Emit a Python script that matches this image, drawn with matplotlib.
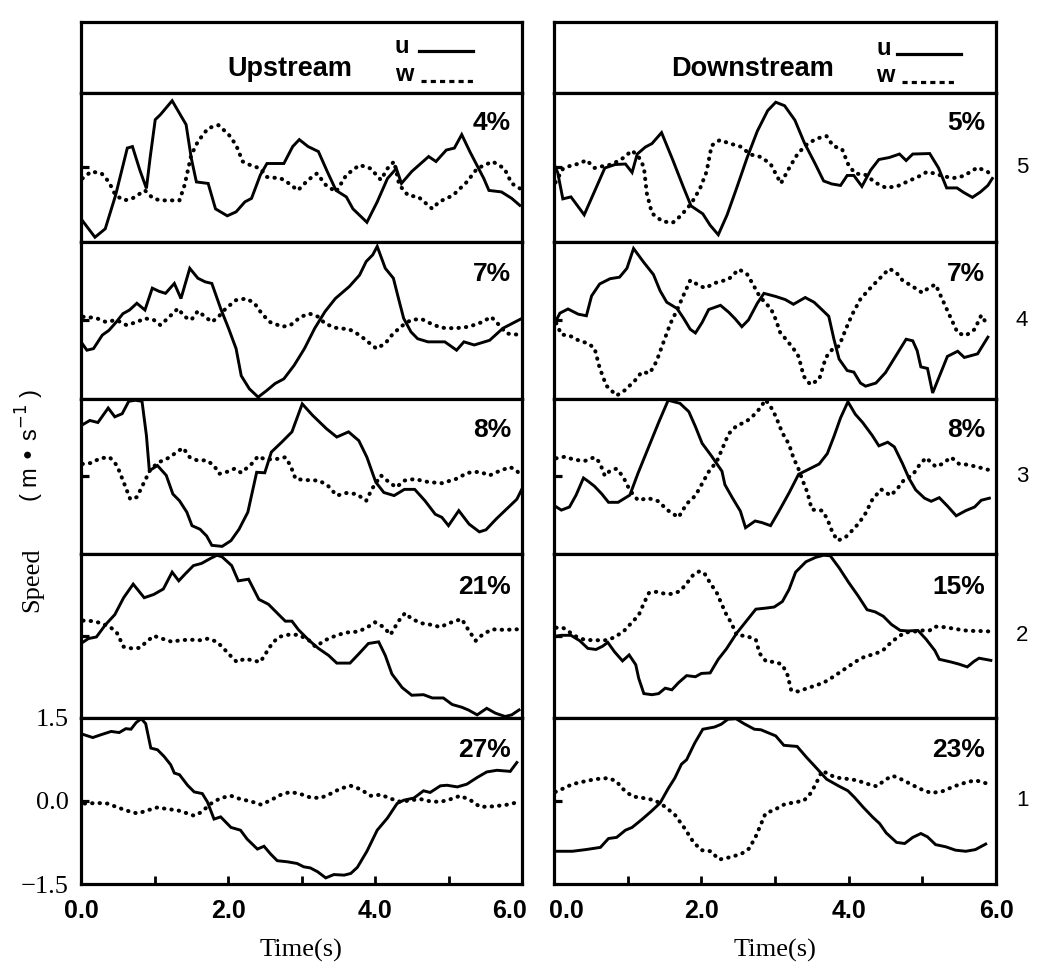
"""Upstream / downstream velocity traces (u solid, w dotted) at five stations."""

import matplotlib

matplotlib.use("Agg")
import matplotlib.pyplot as plt
from matplotlib.lines import Line2D

SANS = "Liberation Sans"
SERIF = "Liberation Serif"

# ---------------------------------------------------------------- upstream
UP1_U_T = [0.00, 0.19, 0.33, 0.47, 0.63, 0.70, 0.80, 0.89, 0.94, 1.01, 1.08, 1.24, 1.43, 1.50, 1.57, 1.73, 1.83, 1.99, 2.11, 2.23, 2.32, 2.44, 2.53, 2.76, 2.88, 2.97, 3.09, 3.23, 3.35, 3.47, 3.61, 3.70, 3.89, 4.03, 4.17, 4.29, 4.36, 4.50, 4.73, 4.83, 4.97, 5.08, 5.18, 5.29, 5.48, 5.55, 5.72, 5.86, 5.97]
UP1_U = [-1.03, -1.40, -1.23, -0.56, 0.39, 0.42, -0.05, -0.42, 0.19, 0.96, 1.06, 1.34, 0.86, 0.19, -0.29, -0.32, -0.83, -0.97, -0.89, -0.69, -0.62, -0.15, 0.08, 0.08, 0.42, 0.56, 0.42, 0.32, -0.08, -0.46, -0.59, -0.83, -1.10, -0.69, -0.22, -0.02, -0.32, -0.08, 0.22, 0.12, 0.35, 0.39, 0.66, 0.32, -0.22, -0.46, -0.49, -0.62, -0.76]
UP1_W_T = [0.02, 0.14, 0.28, 0.38, 0.47, 0.59, 0.70, 0.87, 0.98, 1.08, 1.34, 1.41, 1.50, 1.59, 1.73, 1.87, 2.01, 2.11, 2.20, 2.30, 2.44, 2.53, 2.72, 2.83, 2.95, 3.09, 3.21, 3.33, 3.47, 3.61, 3.79, 3.94, 4.08, 4.17, 4.26, 4.33, 4.45, 4.59, 4.78, 4.87, 5.06, 5.25, 5.39, 5.60, 5.76, 5.86, 5.97]
UP1_W = [-0.22, -0.08, -0.12, -0.29, -0.56, -0.66, -0.62, -0.46, -0.62, -0.66, -0.66, -0.35, 0.25, 0.52, 0.79, 0.85, 0.66, 0.45, 0.12, 0.05, -0.02, -0.19, -0.22, -0.32, -0.46, -0.25, -0.12, -0.35, -0.49, -0.15, 0.05, -0.02, -0.25, -0.02, 0.12, -0.35, -0.56, -0.59, -0.83, -0.69, -0.56, -0.29, -0.02, 0.12, -0.02, -0.32, -0.42]

UP2_U_T = [0.00, 0.08, 0.17, 0.29, 0.38, 0.48, 0.57, 0.66, 0.76, 0.87, 0.97, 1.06, 1.15, 1.27, 1.36, 1.48, 1.59, 1.69, 1.78, 1.90, 2.01, 2.11, 2.18, 2.29, 2.41, 2.53, 2.64, 2.76, 2.90, 3.04, 3.18, 3.32, 3.46, 3.65, 3.79, 3.88, 3.97, 4.03, 4.14, 4.25, 4.32, 4.39, 4.49, 4.58, 4.72, 4.95, 5.11, 5.21, 5.35, 5.56, 5.74, 6.00]
UP2_U = [-0.41, -0.57, -0.54, -0.28, -0.19, -0.03, 0.13, 0.20, 0.33, 0.20, 0.62, 0.56, 0.52, 0.71, 0.42, 1.00, 0.81, 0.74, 0.71, 0.23, -0.16, -0.54, -1.06, -1.31, -1.47, -1.34, -1.21, -1.12, -0.86, -0.54, -0.15, 0.17, 0.42, 0.65, 0.87, 1.13, 1.26, 1.42, 1.00, 0.81, 0.42, 0.04, -0.22, -0.35, -0.41, -0.41, -0.57, -0.41, -0.47, -0.38, -0.15, 0.04]
UP2_W_T = [0.03, 0.20, 0.34, 0.48, 0.62, 0.76, 0.87, 0.99, 1.08, 1.18, 1.32, 1.41, 1.50, 1.59, 1.69, 1.78, 1.87, 1.97, 2.11, 2.25, 2.36, 2.46, 2.57, 2.74, 2.85, 2.99, 3.11, 3.23, 3.32, 3.46, 3.65, 3.79, 3.93, 4.02, 4.14, 4.23, 4.35, 4.49, 4.63, 4.76, 4.90, 5.09, 5.28, 5.46, 5.58, 5.67, 5.79, 6.00]
UP2_W = [0.07, 0.05, -0.03, 0.01, -0.09, -0.03, 0.04, 0.01, -0.09, 0.04, 0.23, 0.07, 0.01, 0.18, 0.07, -0.03, 0.07, 0.23, 0.39, 0.42, 0.33, 0.13, -0.03, -0.12, -0.09, 0.07, 0.13, 0.07, -0.06, -0.14, -0.17, -0.28, -0.44, -0.54, -0.44, -0.28, -0.12, 0.01, 0.03, -0.06, -0.14, -0.15, -0.12, -0.03, 0.07, -0.06, -0.25, -0.28]

UP3_U_T = [0.00, 0.12, 0.23, 0.37, 0.46, 0.56, 0.65, 0.74, 0.83, 0.89, 0.93, 1.04, 1.16, 1.25, 1.34, 1.44, 1.51, 1.62, 1.71, 1.78, 1.92, 2.04, 2.15, 2.27, 2.39, 2.50, 2.59, 2.73, 2.87, 3.01, 3.15, 3.34, 3.48, 3.64, 3.78, 3.89, 4.01, 4.12, 4.26, 4.40, 4.54, 4.68, 4.82, 4.91, 5.00, 5.14, 5.28, 5.42, 5.51, 5.65, 5.79, 5.93, 6.00]
UP3_U = [0.98, 1.08, 1.04, 1.32, 1.15, 1.21, 1.45, 1.47, 1.45, 0.79, 0.11, 0.21, 0.02, -0.34, -0.47, -0.69, -0.95, -1.02, -1.15, -1.33, -1.35, -1.24, -1.02, -0.69, 0.08, 0.07, 0.47, 0.66, 0.86, 1.40, 1.18, 0.92, 0.76, 0.86, 0.69, 0.37, -0.11, -0.31, -0.37, -0.25, -0.25, -0.47, -0.73, -0.79, -0.95, -0.66, -0.92, -1.07, -1.03, -0.82, -0.63, -0.44, -0.24]
UP3_W_T = [0.02, 0.14, 0.26, 0.39, 0.49, 0.58, 0.67, 0.76, 0.86, 0.95, 1.07, 1.21, 1.30, 1.39, 1.48, 1.58, 1.71, 1.81, 1.88, 1.99, 2.09, 2.18, 2.32, 2.41, 2.50, 2.64, 2.78, 2.85, 2.92, 3.06, 3.24, 3.36, 3.48, 3.61, 3.75, 3.88, 3.96, 4.08, 4.19, 4.29, 4.40, 4.54, 4.73, 4.91, 5.10, 5.26, 5.42, 5.56, 5.70, 5.84, 5.93, 6.00]
UP3_W = [0.24, 0.26, 0.35, 0.37, 0.21, -0.11, -0.44, -0.40, -0.11, 0.15, 0.28, 0.37, 0.47, 0.55, 0.37, 0.31, 0.31, 0.21, 0.05, 0.09, 0.15, 0.07, 0.24, 0.39, 0.33, 0.33, 0.37, 0.21, -0.05, -0.07, -0.08, -0.18, -0.37, -0.32, -0.34, -0.47, -0.24, 0.02, -0.11, -0.21, -0.08, -0.05, -0.11, -0.13, -0.05, 0.07, 0.09, 0.02, 0.11, 0.18, 0.11, -0.02]

UP4_U_T = [0.00, 0.10, 0.21, 0.33, 0.46, 0.58, 0.71, 0.86, 0.99, 1.12, 1.24, 1.33, 1.42, 1.53, 1.64, 1.76, 1.85, 1.92, 2.05, 2.14, 2.28, 2.42, 2.55, 2.69, 2.78, 2.87, 2.96, 3.10, 3.23, 3.37, 3.48, 3.66, 3.78, 3.91, 4.05, 4.14, 4.23, 4.37, 4.50, 4.66, 4.78, 4.93, 5.05, 5.18, 5.27, 5.39, 5.52, 5.64, 5.77, 5.86, 5.96]
UP4_U = [-0.14, -0.05, -0.02, 0.20, 0.39, 0.70, 0.95, 0.70, 0.76, 0.86, 1.17, 1.01, 1.14, 1.29, 1.33, 1.42, 1.48, 1.45, 1.29, 1.01, 1.04, 0.67, 0.58, 0.39, 0.27, 0.27, 0.11, -0.08, -0.23, -0.36, -0.50, -0.50, -0.33, -0.14, -0.11, -0.36, -0.70, -0.95, -1.09, -1.08, -1.14, -1.14, -1.26, -1.31, -1.36, -1.45, -1.33, -1.42, -1.48, -1.45, -1.36]
UP4_W_T = [0.03, 0.17, 0.28, 0.40, 0.49, 0.58, 0.69, 0.80, 0.89, 0.99, 1.10, 1.24, 1.35, 1.48, 1.62, 1.73, 1.85, 1.94, 2.03, 2.12, 2.23, 2.37, 2.44, 2.51, 2.60, 2.69, 2.82, 2.96, 3.10, 3.19, 3.32, 3.46, 3.60, 3.78, 3.91, 4.00, 4.12, 4.21, 4.32, 4.41, 4.50, 4.64, 4.78, 4.89, 5.00, 5.18, 5.27, 5.37, 5.46, 5.59, 5.77, 5.93]
UP4_W = [0.28, 0.27, 0.23, 0.16, 0.05, -0.20, -0.23, -0.22, -0.11, 0.00, -0.05, -0.11, -0.08, -0.07, -0.08, -0.05, -0.11, -0.23, -0.36, -0.48, -0.42, -0.46, -0.48, -0.33, -0.14, -0.02, 0.02, 0.02, -0.08, -0.20, -0.08, 0.00, 0.06, 0.08, 0.17, 0.25, 0.16, 0.02, 0.27, 0.42, 0.31, 0.23, 0.20, 0.16, 0.23, 0.31, 0.11, -0.09, 0.02, 0.12, 0.11, 0.12]

UP5_U_T = [0.02, 0.16, 0.27, 0.41, 0.52, 0.61, 0.68, 0.75, 0.82, 0.88, 0.95, 1.04, 1.13, 1.22, 1.27, 1.34, 1.45, 1.54, 1.65, 1.72, 1.81, 1.90, 2.04, 2.17, 2.26, 2.40, 2.49, 2.58, 2.67, 2.81, 2.94, 3.03, 3.12, 3.22, 3.33, 3.44, 3.58, 3.67, 3.76, 3.89, 4.03, 4.17, 4.30, 4.39, 4.53, 4.66, 4.75, 4.89, 4.98, 5.12, 5.25, 5.39, 5.52, 5.66, 5.84, 5.93]
UP5_U = [1.20, 1.14, 1.19, 1.25, 1.23, 1.30, 1.29, 1.41, 1.48, 1.39, 0.95, 0.92, 0.80, 0.65, 0.50, 0.47, 0.28, 0.16, 0.13, -0.02, -0.33, -0.29, -0.48, -0.53, -0.69, -0.87, -0.82, -0.96, -1.08, -1.10, -1.13, -1.19, -1.21, -1.28, -1.39, -1.33, -1.34, -1.31, -1.20, -0.91, -0.53, -0.31, -0.05, 0.01, 0.05, 0.18, 0.15, 0.27, 0.28, 0.25, 0.30, 0.42, 0.52, 0.55, 0.53, 0.69]
UP5_W_T = [0.05, 0.23, 0.36, 0.50, 0.63, 0.77, 0.91, 1.04, 1.18, 1.31, 1.43, 1.54, 1.63, 1.77, 1.90, 2.04, 2.17, 2.31, 2.45, 2.58, 2.72, 2.85, 2.99, 3.12, 3.26, 3.40, 3.53, 3.67, 3.80, 3.94, 4.08, 4.21, 4.35, 4.48, 4.62, 4.75, 4.89, 5.03, 5.16, 5.30, 5.43, 5.62, 5.80, 5.93]
UP5_W = [-0.05, -0.04, -0.05, -0.12, -0.18, -0.23, -0.17, -0.12, -0.15, -0.17, -0.22, -0.27, -0.21, -0.05, 0.05, 0.09, 0.03, -0.01, -0.07, 0.01, 0.11, 0.16, 0.12, 0.06, 0.05, 0.13, 0.22, 0.27, 0.21, 0.09, 0.11, 0.04, -0.02, 0.01, 0.03, -0.01, -0.02, 0.03, 0.09, 0.01, -0.11, -0.10, -0.07, -0.03]

# -------------------------------------------------------------- downstream
DN1_U_T = [0.00, 0.05, 0.12, 0.23, 0.41, 0.55, 0.69, 0.83, 0.97, 1.06, 1.13, 1.24, 1.33, 1.46, 1.61, 1.75, 1.86, 2.02, 2.12, 2.23, 2.35, 2.48, 2.62, 2.76, 2.90, 3.01, 3.13, 3.27, 3.40, 3.54, 3.66, 3.77, 3.89, 3.98, 4.07, 4.18, 4.30, 4.41, 4.55, 4.69, 4.78, 4.87, 5.10, 5.22, 5.33, 5.47, 5.56, 5.68, 5.79, 5.89, 5.95]
DN1_U = [0.07, -0.10, -0.63, -0.59, -0.95, -0.48, -0.01, 0.06, 0.07, -0.10, 0.27, 0.41, 0.48, 0.70, 0.16, -0.37, -0.77, -0.93, -1.16, -1.35, -0.95, -0.41, 0.19, 0.73, 1.14, 1.31, 1.24, 0.95, 0.49, 0.09, -0.27, -0.33, -0.36, -0.16, -0.16, -0.38, -0.05, 0.16, 0.20, 0.27, 0.14, 0.27, 0.28, -0.01, -0.41, -0.41, -0.50, -0.60, -0.49, -0.36, -0.22]
DN1_W_T = [0.02, 0.12, 0.23, 0.35, 0.44, 0.55, 0.64, 0.78, 0.92, 1.06, 1.15, 1.22, 1.26, 1.33, 1.47, 1.61, 1.72, 1.86, 1.98, 2.07, 2.14, 2.25, 2.39, 2.53, 2.67, 2.81, 2.94, 3.08, 3.20, 3.31, 3.45, 3.59, 3.70, 3.79, 3.91, 4.00, 4.09, 4.23, 4.37, 4.51, 4.67, 4.83, 4.94, 5.06, 5.17, 5.29, 5.43, 5.56, 5.75, 5.89, 5.93]
DN1_W = [-0.30, -0.03, 0.04, 0.08, 0.15, -0.01, 0.02, 0.06, 0.17, 0.34, 0.21, 0.01, -0.52, -0.92, -1.08, -1.11, -0.97, -0.73, -0.43, -0.09, 0.44, 0.55, 0.48, 0.42, 0.26, 0.21, 0.07, -0.32, 0.01, 0.28, 0.49, 0.59, 0.63, 0.43, 0.37, 0.04, -0.12, -0.15, -0.31, -0.41, -0.37, -0.26, -0.19, -0.09, -0.12, -0.18, -0.21, -0.17, 0.00, -0.09, -0.16]

DN2_U_T = [0.00, 0.08, 0.19, 0.33, 0.44, 0.51, 0.62, 0.76, 0.89, 0.99, 1.08, 1.21, 1.35, 1.44, 1.53, 1.67, 1.76, 1.85, 1.92, 2.01, 2.10, 2.26, 2.37, 2.46, 2.55, 2.64, 2.76, 2.85, 3.01, 3.14, 3.25, 3.41, 3.53, 3.62, 3.73, 3.80, 3.87, 3.98, 4.07, 4.16, 4.23, 4.37, 4.50, 4.64, 4.78, 4.87, 4.93, 4.98, 5.07, 5.14, 5.34, 5.48, 5.57, 5.75, 5.89]
DN2_U = [-0.08, 0.14, 0.22, 0.12, 0.09, 0.47, 0.70, 0.80, 0.83, 1.00, 1.38, 1.13, 0.88, 0.57, 0.35, 0.23, 0.04, -0.17, -0.24, -0.04, 0.21, 0.29, 0.16, 0.03, -0.12, 0.01, 0.33, 0.52, 0.46, 0.40, 0.31, 0.44, 0.35, 0.23, 0.08, -0.36, -0.74, -0.96, -0.99, -1.20, -1.26, -1.20, -1.00, -0.68, -0.36, -0.39, -0.58, -0.89, -0.92, -1.39, -0.69, -0.59, -0.71, -0.64, -0.32]
DN2_W_T = [0.03, 0.10, 0.21, 0.33, 0.46, 0.55, 0.62, 0.71, 0.85, 0.96, 1.10, 1.19, 1.30, 1.39, 1.48, 1.58, 1.67, 1.76, 1.85, 1.96, 2.05, 2.19, 2.37, 2.51, 2.62, 2.71, 2.78, 2.87, 2.94, 3.01, 3.07, 3.16, 3.25, 3.32, 3.39, 3.48, 3.60, 3.69, 3.78, 3.87, 3.96, 4.05, 4.16, 4.28, 4.41, 4.55, 4.64, 4.73, 4.87, 5.00, 5.09, 5.18, 5.34, 5.48, 5.59, 5.71, 5.80, 5.89]
DN2_W = [-0.05, -0.27, -0.29, -0.38, -0.44, -0.53, -0.91, -1.25, -1.44, -1.34, -1.15, -0.99, -1.01, -0.79, -0.44, -0.06, 0.20, 0.49, 0.77, 0.68, 0.62, 0.72, 0.79, 0.98, 0.89, 0.67, 0.49, 0.33, 0.24, 0.02, -0.23, -0.38, -0.54, -0.69, -1.07, -1.23, -1.13, -0.71, -0.55, -0.49, -0.17, 0.12, 0.41, 0.60, 0.79, 0.99, 0.93, 0.77, 0.65, 0.53, 0.63, 0.69, 0.19, -0.24, -0.29, -0.17, 0.10, -0.10]

DN3_U_T = [0.00, 0.10, 0.21, 0.30, 0.40, 0.46, 0.55, 0.65, 0.74, 0.87, 1.03, 1.14, 1.28, 1.42, 1.55, 1.71, 1.83, 1.92, 2.01, 2.14, 2.28, 2.32, 2.42, 2.53, 2.60, 2.73, 2.82, 2.94, 3.05, 3.19, 3.32, 3.46, 3.60, 3.71, 3.80, 3.89, 3.99, 4.09, 4.19, 4.32, 4.41, 4.53, 4.62, 4.73, 4.82, 4.91, 5.03, 5.12, 5.23, 5.34, 5.46, 5.59, 5.71, 5.80, 5.91]
DN3_U = [-0.56, -0.65, -0.59, -0.36, -0.03, -0.09, -0.19, -0.34, -0.50, -0.50, -0.36, 0.06, 0.55, 1.04, 1.47, 1.41, 1.25, 0.96, 0.64, 0.39, 0.10, -0.16, -0.41, -0.67, -0.99, -0.86, -0.89, -0.95, -0.68, -0.32, 0.04, 0.14, 0.24, 0.44, 0.77, 1.13, 1.44, 1.20, 1.04, 0.79, 0.59, 0.66, 0.57, 0.25, -0.04, -0.26, -0.42, -0.48, -0.41, -0.57, -0.76, -0.66, -0.59, -0.46, -0.42]
DN3_W_T = [0.03, 0.15, 0.28, 0.42, 0.55, 0.62, 0.69, 0.76, 0.85, 0.94, 1.03, 1.14, 1.28, 1.42, 1.53, 1.69, 1.80, 1.92, 2.01, 2.10, 2.21, 2.28, 2.37, 2.48, 2.60, 2.69, 2.80, 2.87, 2.94, 3.01, 3.10, 3.19, 3.25, 3.32, 3.37, 3.44, 3.50, 3.64, 3.71, 3.78, 3.85, 3.96, 4.05, 4.14, 4.23, 4.32, 4.44, 4.57, 4.66, 4.75, 4.87, 4.96, 5.05, 5.18, 5.27, 5.39, 5.50, 5.59, 5.73, 5.89]
DN3_W = [0.35, 0.38, 0.32, 0.30, 0.37, 0.27, 0.01, 0.11, 0.15, -0.01, -0.27, -0.46, -0.42, -0.48, -0.64, -0.79, -0.53, -0.37, -0.14, 0.09, 0.29, 0.52, 0.82, 0.98, 1.05, 1.15, 1.32, 1.48, 1.35, 1.16, 0.84, 0.62, 0.36, 0.14, -0.06, -0.31, -0.64, -0.66, -0.82, -1.08, -1.24, -1.17, -1.04, -0.90, -0.71, -0.45, -0.25, -0.37, -0.24, -0.07, 0.03, 0.22, 0.36, 0.19, 0.24, 0.37, 0.24, 0.23, 0.19, 0.13]

DN4_U_T = [0.00, 0.10, 0.23, 0.35, 0.46, 0.57, 0.66, 0.73, 0.82, 0.93, 1.02, 1.11, 1.15, 1.22, 1.33, 1.42, 1.51, 1.60, 1.69, 1.80, 1.92, 2.00, 2.12, 2.23, 2.34, 2.48, 2.61, 2.74, 2.88, 2.99, 3.10, 3.19, 3.28, 3.42, 3.55, 3.66, 3.75, 3.87, 4.00, 4.13, 4.25, 4.36, 4.47, 4.58, 4.70, 4.81, 4.94, 5.05, 5.17, 5.23, 5.39, 5.50, 5.61, 5.70, 5.77, 5.93]
DN4_U = [-0.01, 0.01, 0.01, -0.09, -0.23, -0.25, -0.19, -0.12, -0.29, -0.46, -0.35, -0.53, -0.78, -1.06, -1.08, -1.06, -0.96, -0.99, -0.86, -0.73, -0.75, -0.69, -0.68, -0.43, -0.24, 0.05, 0.27, 0.49, 0.51, 0.53, 0.63, 0.85, 1.17, 1.36, 1.44, 1.48, 1.47, 1.25, 0.98, 0.73, 0.48, 0.44, 0.36, 0.21, 0.10, 0.09, 0.10, -0.06, -0.27, -0.43, -0.48, -0.52, -0.57, -0.47, -0.41, -0.45]
DN4_W_T = [0.03, 0.12, 0.19, 0.28, 0.41, 0.53, 0.61, 0.73, 0.84, 0.95, 1.06, 1.15, 1.22, 1.29, 1.40, 1.51, 1.60, 1.71, 1.80, 1.89, 1.98, 2.05, 2.12, 2.21, 2.27, 2.34, 2.41, 2.48, 2.61, 2.74, 2.79, 2.88, 3.01, 3.10, 3.17, 3.22, 3.31, 3.42, 3.53, 3.66, 3.78, 3.89, 4.00, 4.11, 4.22, 4.36, 4.47, 4.56, 4.65, 4.76, 4.90, 5.01, 5.10, 5.17, 5.30, 5.44, 5.57, 5.70, 5.77, 5.93]
DN4_W = [0.15, 0.15, 0.09, 0.00, -0.07, -0.08, -0.08, -0.08, -0.01, 0.09, 0.25, 0.38, 0.60, 0.79, 0.81, 0.77, 0.77, 0.82, 0.96, 1.12, 1.19, 1.13, 0.97, 0.79, 0.60, 0.39, 0.23, 0.01, 0.00, -0.07, -0.32, -0.47, -0.48, -0.53, -0.72, -1.00, -1.02, -0.97, -0.92, -0.86, -0.76, -0.66, -0.56, -0.46, -0.38, -0.33, -0.26, -0.14, -0.04, 0.06, 0.08, 0.10, 0.10, 0.17, 0.16, 0.13, 0.10, 0.09, 0.09, 0.08]

DN5_U_T = [0.02, 0.25, 0.43, 0.63, 0.74, 0.85, 0.97, 1.06, 1.19, 1.32, 1.44, 1.55, 1.64, 1.73, 1.80, 1.91, 2.02, 2.18, 2.27, 2.36, 2.47, 2.58, 2.72, 2.81, 2.90, 3.01, 3.12, 3.30, 3.43, 3.57, 3.70, 3.86, 3.99, 4.08, 4.20, 4.33, 4.42, 4.51, 4.65, 4.76, 4.87, 4.98, 5.07, 5.18, 5.32, 5.45, 5.59, 5.72, 5.86]
DN5_U = [-0.91, -0.91, -0.88, -0.84, -0.68, -0.66, -0.53, -0.48, -0.34, -0.19, -0.04, 0.22, 0.41, 0.66, 0.74, 1.04, 1.29, 1.33, 1.38, 1.47, 1.48, 1.39, 1.29, 1.28, 1.23, 1.17, 1.00, 0.98, 0.78, 0.58, 0.39, 0.27, 0.18, 0.06, -0.12, -0.30, -0.41, -0.58, -0.75, -0.77, -0.66, -0.59, -0.65, -0.79, -0.83, -0.89, -0.91, -0.88, -0.78]
DN5_W_T = [0.02, 0.14, 0.25, 0.38, 0.56, 0.74, 0.85, 0.92, 1.06, 1.21, 1.37, 1.50, 1.64, 1.77, 1.89, 2.00, 2.13, 2.24, 2.38, 2.54, 2.65, 2.74, 2.81, 2.87, 3.01, 3.12, 3.25, 3.39, 3.48, 3.55, 3.64, 3.73, 3.82, 3.95, 4.11, 4.24, 4.38, 4.51, 4.60, 4.71, 4.83, 4.96, 5.12, 5.27, 5.43, 5.59, 5.72, 5.88]
DN5_W = [0.16, 0.23, 0.30, 0.34, 0.39, 0.41, 0.35, 0.23, 0.08, 0.05, 0.01, -0.10, -0.25, -0.49, -0.74, -0.89, -0.91, -1.06, -1.02, -0.96, -0.86, -0.64, -0.42, -0.23, -0.15, -0.07, -0.03, 0.00, 0.13, 0.29, 0.54, 0.48, 0.42, 0.40, 0.37, 0.31, 0.26, 0.39, 0.45, 0.39, 0.31, 0.22, 0.14, 0.17, 0.26, 0.33, 0.37, 0.31]

UP_PERCENT = ["4%", "7%", "8%", "21%", "27%"]
DN_PERCENT = ["5%", "7%", "8%", "15%", "23%"]
STATIONS = ["5", "4", "3", "2", "1"]
TIME_TICKS = [1, 2, 3, 4, 5]
TIME_LABEL_VALUES = [0.0, 2.0, 4.0, 6.0]
SPEED_TICKS = [-1.5, 0.0, 1.5]
SPEED_LABELS = ["\u22121.5", "0.0", "1.5"]

upstream = [
    (UP1_U_T, UP1_U, UP1_W_T, UP1_W),
    (UP2_U_T, UP2_U, UP2_W_T, UP2_W),
    (UP3_U_T, UP3_U, UP3_W_T, UP3_W),
    (UP4_U_T, UP4_U, UP4_W_T, UP4_W),
    (UP5_U_T, UP5_U, UP5_W_T, UP5_W),
]
downstream = [
    (DN1_U_T, DN1_U, DN1_W_T, DN1_W),
    (DN2_U_T, DN2_U, DN2_W_T, DN2_W),
    (DN3_U_T, DN3_U, DN3_W_T, DN3_W),
    (DN4_U_T, DN4_U, DN4_W_T, DN4_W),
    (DN5_U_T, DN5_U, DN5_W_T, DN5_W),
]

W, H = 1042, 972
FRAME_LW = 2.3
U_STYLE = dict(color="black", lw=2.1, solid_joinstyle="miter")
W_STYLE = dict(color="black", lw=2.9, linestyle=(0, (0.1, 1.75)), dash_capstyle="round")

fig = plt.figure(figsize=(W / 100, H / 100), dpi=100)
ratios = [71, 150, 157, 156, 164, 167]
top, bottom = 1 - 22 / H, 1 - 884 / H

# label_shift nudges the outer time labels so neighbouring columns don't collide
columns = [
    dict(left=81, right=522, title="Upstream", title_x=0.474, data=upstream, pct=UP_PERCENT,
         u_y=0.66, w_y=0.26, key_x=0.712, u_line=(0.766, 0.889), w_line=(0.77, 0.889),
         label_shift={6.0: -0.17}),
    dict(left=554, right=996, title="Downstream", title_x=0.448, data=downstream, pct=DN_PERCENT,
         u_y=0.62, w_y=0.24, key_x=0.729, u_line=(0.776, 0.921), w_line=(0.787, 0.91),
         label_shift={0.0: 0.17}),
]


def frame(ax):
    for spine in ax.spines.values():
        spine.set_linewidth(FRAME_LW)
    ax.set_xticks([])
    ax.set_yticks([])


for ci, col in enumerate(columns):
    gs = fig.add_gridspec(6, 1, left=col["left"] / W, right=col["right"] / W,
                          top=top, bottom=bottom, height_ratios=ratios, hspace=0)
    head = fig.add_subplot(gs[0])
    frame(head)
    head.text(col["title_x"], 0.33, col["title"], transform=head.transAxes, ha="center",
              va="center", fontsize=19.5, fontweight="bold", family=SANS)
    kx = col["key_x"]
    head.text(kx, col["u_y"], "u", transform=head.transAxes, ha="left", va="center",
              fontsize=17, fontweight="bold", family=SANS)
    head.text(kx, col["w_y"], "w", transform=head.transAxes, ha="left", va="center",
              fontsize=17, fontweight="bold", family=SANS)
    head.add_line(Line2D(col["u_line"], [col["u_y"] - 0.07] * 2, transform=head.transAxes,
                         color="black", lw=2.3))
    head.add_line(Line2D(col["w_line"], [col["w_y"] - 0.09] * 2, transform=head.transAxes,
                         color="black", lw=2.3, linestyle=(0, (1.6, 1.3))))

    for pi, (ut, u, wt, w) in enumerate(col["data"]):
        ax = fig.add_subplot(gs[pi + 1])
        frame(ax)
        ax.set_xlim(0, 6)
        ax.set_ylim(-1.5, 1.5)
        ax.plot(wt, w, **W_STYLE)
        ax.plot(ut, u, **U_STYLE)
        # short zero marker on the left edge
        ax.plot([0, 0.11], [0, 0], color="black", lw=2.3, solid_capstyle="butt", clip_on=False)
        ax.text(0.975, 0.875, col["pct"][pi], transform=ax.transAxes, ha="right", va="top",
                fontsize=19, fontweight="bold", family=SANS)
        if ci == 1:
            pos = ax.get_position()
            fig.text(1022 / W, (pos.y0 + pos.y1) / 2, STATIONS[pi], ha="center", va="center",
                     fontsize=16, family=SANS)
        if pi == 4:
            ax.set_xticks(TIME_TICKS)
            ax.set_xticklabels([])
            ax.tick_params(axis="x", direction="in", length=6, width=2.0)
            xform = ax.get_xaxis_transform()
            for value in TIME_LABEL_VALUES:
                ax.text(value + col["label_shift"].get(value, 0.0), -0.09, f"{value:.1f}",
                        transform=xform, ha="center", va="top", fontsize=18,
                        fontweight="bold", family=SANS)
            ax.set_xlabel("Time(s)", fontsize=19, family=SERIF, labelpad=36)
            if ci == 0:
                ax.set_yticks(SPEED_TICKS)
                ax.set_yticklabels(SPEED_LABELS, fontsize=19, family=SERIF)
                ax.tick_params(axis="y", length=0, pad=9)

fig.text(32 / W, 1 - 580 / H, "Speed", rotation=90, ha="center", va="center",
         fontsize=19, family=SERIF)
fig.text(30 / W, 1 - 445 / H, "( m \u2022 s$^{-1}$ )", rotation=90, ha="center",
         va="center", fontsize=17, family=SANS)

fig.savefig("out.png", dpi=100)
